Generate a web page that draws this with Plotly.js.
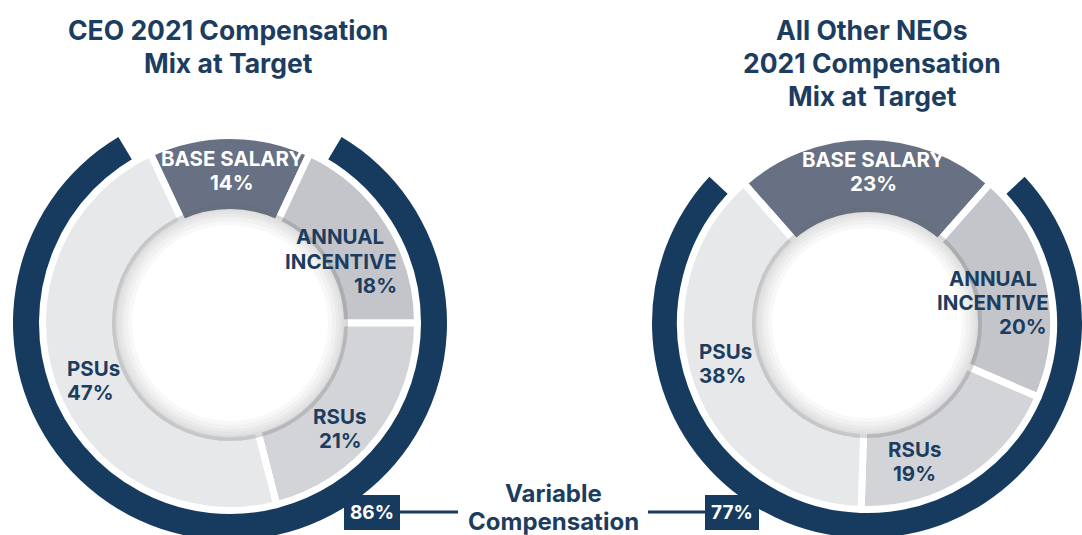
<!DOCTYPE html>
<html>
<head>
<meta charset="utf-8">
<script src="https://cdn.plot.ly/plotly-3.0.1.min.js"></script>
<style>
html,body{margin:0;padding:0;background:#ffffff;}
#wrap{width:1082px;height:535px;overflow:hidden;position:relative;}
#chart{width:1082px;height:570px;}
</style>
</head>
<body>
<div id="wrap"><div id="chart"></div></div>
<script>
// ---------------- data ----------------
const components = ['BASE SALARY', 'ANNUAL INCENTIVE', 'RSUs', 'PSUs'];
const componentLines = [['BASE SALARY'], ['ANNUAL', 'INCENTIVE'], ['RSUs'], ['PSUs']];
const ceoMix = [14, 18, 21, 47];
const neoMix = [23, 20, 19, 38];
const variableComp = [86, 77];
const chartTitles = [
  ['CEO 2021 Compensation', 'Mix at Target'],
  ['All Other NEOs', '2021 Compensation', 'Mix at Target']
];
const centerLabel = ['Variable', 'Compensation'];

// ---------------- style ----------------
const W = 1082, H = 570;
const NAVY = '#173b5f';
const TEXT = '#1c3d60';
const sliceColors = ['#687084', '#c3c5ca', '#d3d4d8', '#e7e8ea'];
const FONT = 'Inter, Roboto, "Liberation Sans", sans-serif';
const RING_PAD = 1.6;   // visual extra gap of the outer ring (percent points)
const GAP = 7;          // white separator width

const panels = [
  { mix: ceoMix, variable: variableComp[0], cx: 230, cy: 323,
    ringOuter: 217, ringInner: 189, sliceOuter: 184, holeR: 114,
    title: chartTitles[0], titleX: 228, titleY: [30, 63],
    labelPos: [
      [[232, 158.5, 'center'], [232, 182.5, 'center']],
      [[340, 237, 'center'], [341, 261, 'center'], [399, 285, 'right']],
      [[339, 416, 'center'], [340, 440, 'center']],
      [[65, 368, 'left'], [65, 392, 'left']]
    ],
    box: [372, 512] },
  { mix: neoMix, variable: variableComp[1], cx: 867, cy: 323,
    ringOuter: 215, ringInner: 188, sliceOuter: 183, holeR: 111,
    title: chartTitles[1], titleX: 872, titleY: [30, 63, 96],
    labelPos: [
      [[873, 159.5, 'center'], [873, 183.5, 'center']],
      [[993, 278, 'center'], [993, 302, 'center'], [1049, 326, 'right']],
      [[914, 449.5, 'center'], [914, 473.5, 'center']],
      [[697, 351.5, 'left'], [697, 375.5, 'left']]
    ],
    box: [732, 512] }
];

const px2x = p => p / W;
const px2y = p => 1 - p / H;
function dom(cx, cy, r) {
  return { x: [(cx - r) / W, (cx + r) / W], y: [1 - (cy + r) / H, 1 - (cy - r) / H] };
}

const traces = [];
const annotations = [];
const shapes = [];

panels.forEach(p => {
  const base = p.mix[0];
  // outer ring: variable compensation
  traces.push({
    type: 'pie', sort: false, direction: 'clockwise',
    values: [base + 2 * RING_PAD, p.variable - 2 * RING_PAD],
    rotation: -(base / 2 + RING_PAD) * 3.6,
    hole: p.ringInner / p.ringOuter,
    marker: { colors: ['rgba(0,0,0,0)', NAVY], line: { width: 0 } },
    textinfo: 'none', hoverinfo: 'none', showlegend: false,
    domain: dom(p.cx, p.cy, p.ringOuter)
  });
  // compensation mix slices
  const rOut = p.sliceOuter + GAP / 2, rIn = p.holeR - GAP / 2;
  traces.push({
    type: 'pie', sort: false, direction: 'clockwise',
    labels: components, values: p.mix,
    rotation: -(base / 2) * 3.6,
    hole: rIn / rOut,
    marker: { colors: sliceColors, line: { color: '#ffffff', width: GAP } },
    textinfo: 'none', hoverinfo: 'none', showlegend: false,
    domain: dom(p.cx, p.cy, rOut)
  });
  // soft inner bevel shading around the hole
  const shadeR = p.holeR + 4;
  [20, 16, 12, 9, 6, 3].forEach(w => {
    traces.push({
      type: 'pie', values: [1], hole: 1 - w / shadeR,
      marker: { colors: ['rgba(110,112,125,0.05)'], line: { width: 0 } },
      textinfo: 'none', hoverinfo: 'none', showlegend: false, sort: false,
      domain: dom(p.cx, p.cy, shadeR)
    });
  });

  // title
  p.title.forEach((t, i) => annotations.push({
    text: t, x: px2x(p.titleX), y: px2y(p.titleY[i]), xref: 'paper', yref: 'paper',
    xanchor: 'center', yanchor: 'middle', showarrow: false,
    font: { family: FONT, size: 26.5, color: TEXT, weight: 700 }
  }));

  // slice labels
  p.mix.forEach((v, k) => {
    const lines = componentLines[k].concat([v + '%']);
    lines.forEach((ln, j) => {
      const pos = p.labelPos[k][j];
      annotations.push({
        text: ln, x: px2x(pos[0]), y: px2y(pos[1]), xref: 'paper', yref: 'paper',
        xanchor: pos[2], yanchor: 'middle', showarrow: false,
        font: { family: FONT, size: 20.5, color: k === 0 ? '#ffffff' : TEXT, weight: 700 }
      });
    });
  });

  // variable compensation badge
  annotations.push({
    text: p.variable + '%', x: px2x(p.box[0]), y: px2y(p.box[1]), xref: 'paper', yref: 'paper',
    xanchor: 'center', yanchor: 'middle', showarrow: false,
    bgcolor: NAVY, borderpad: 5, bordercolor: NAVY, borderwidth: 1,
    font: { family: FONT, size: 19, color: '#ffffff', weight: 700 }
  });
});

// center label and connectors
centerLabel.forEach((t, i) => annotations.push({
  text: t, x: px2x(553), y: px2y([493, 521][i]), xref: 'paper', yref: 'paper',
  xanchor: 'center', yanchor: 'middle', showarrow: false,
  font: { family: FONT, size: 24, color: TEXT, weight: 700 }
}));
[[398, 458], [648, 708]].forEach(s => shapes.push({
  type: 'line', xref: 'paper', yref: 'paper',
  x0: px2x(s[0]), x1: px2x(s[1]), y0: px2y(512), y1: px2y(512),
  line: { color: NAVY, width: 3 }, layer: 'below'
}));

const layout = {
  width: W, height: H,
  margin: { l: 0, r: 0, t: 0, b: 0 },
  paper_bgcolor: '#ffffff', plot_bgcolor: '#ffffff',
  showlegend: false, hovermode: false,
  annotations: annotations, shapes: shapes
};

Plotly.newPlot('chart', traces, layout, { staticPlot: true, displayModeBar: false });
</script>
</body>
</html>
